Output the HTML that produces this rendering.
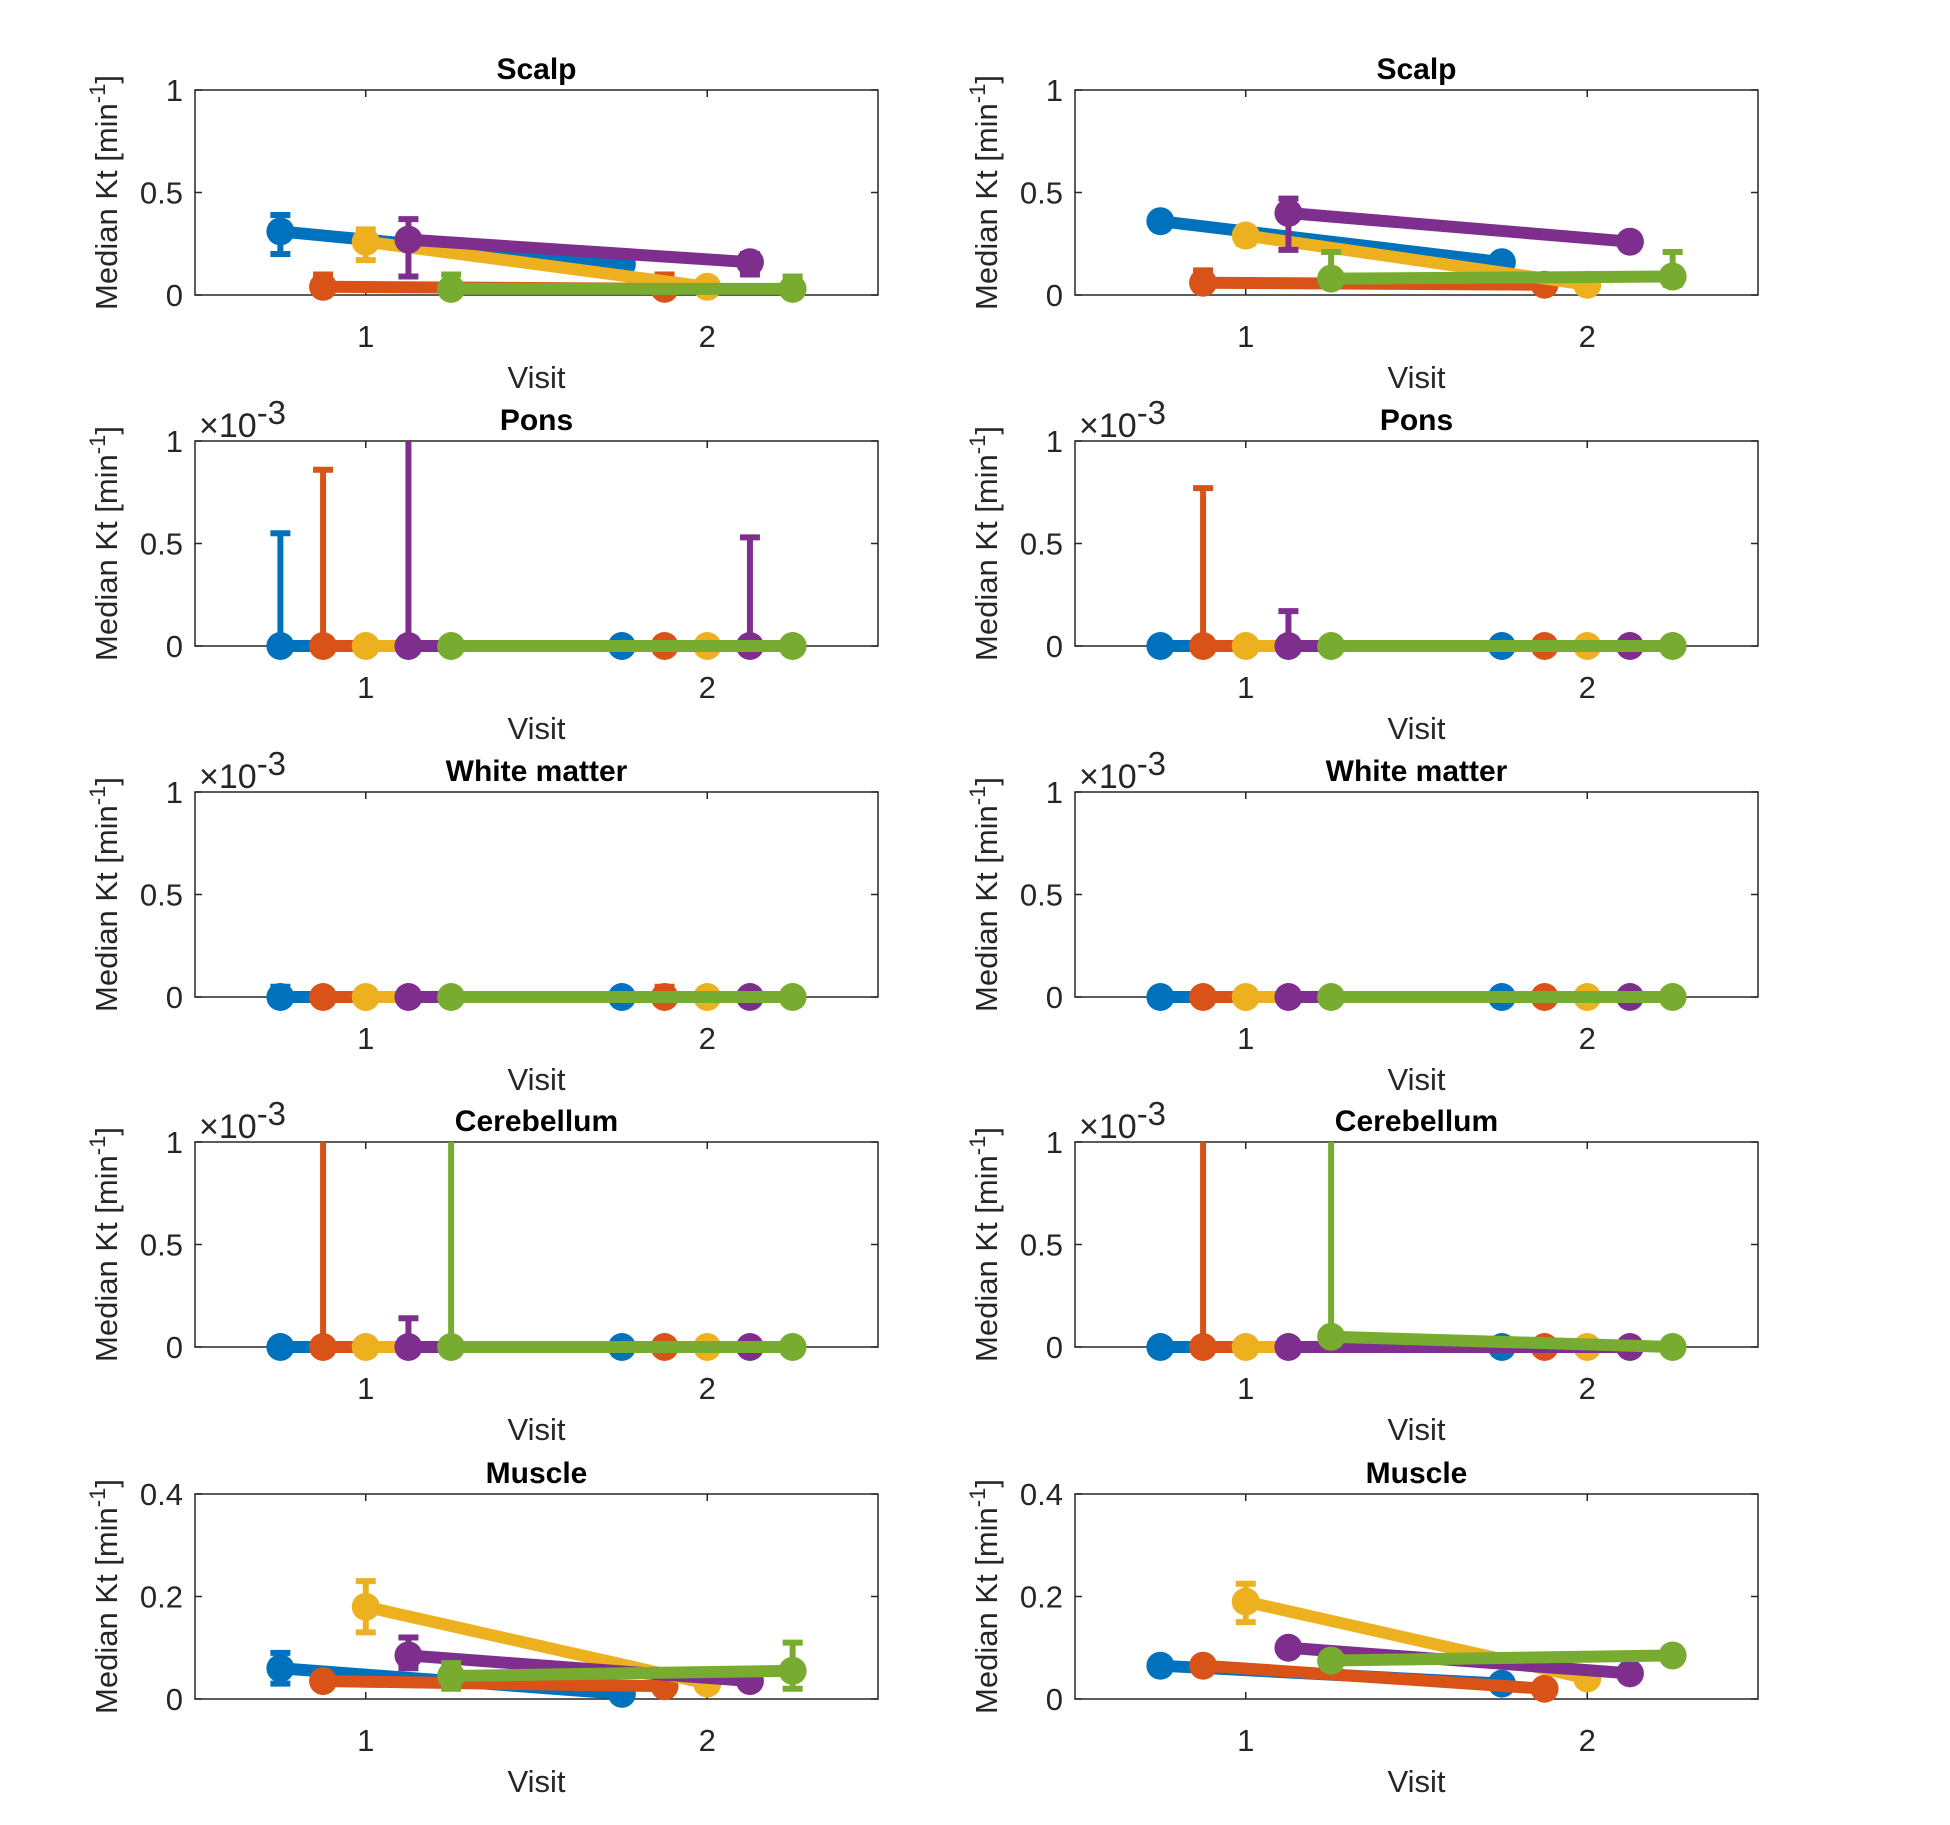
<!DOCTYPE html>
<html><head><meta charset="utf-8"><style>
html,body{margin:0;padding:0;background:#fff;}
svg{display:block;font-family:"Liberation Sans",Arial,sans-serif;}
</style></head><body>
<svg id="fig" width="1950" height="1825" viewBox="0 0 1950 1825" xmlns="http://www.w3.org/2000/svg"></svg>
<script>
const colors=['#0072BD','#D95319','#EDB120','#7E2F8E','#77AC30'];
const seriesNames=['s1','s2','s3','s4','s5'];
const offsets=[-0.25,-0.125,0,0.125,0.25];
const visits=[1,2];
const titles=['Scalp','Pons','White matter','Cerebellum','Muscle'];
const yMax=[1,1,1,1,0.4];
const yTicks=[[0,0.5,1],[0,0.5,1],[0,0.5,1],[0,0.5,1],[0,0.2,0.4]];
const yTickLabels=[['0','0.5','1'],['0','0.5','1'],['0','0.5','1'],['0','0.5','1'],['0','0.2','0.4']];
const exponentRows=[false,true,true,true,false];
const valuesLeft=[
 [[0.31,0.15],[0.04,0.03],[0.26,0.04],[0.27,0.16],[0.03,0.03]],
 [[0,0],[0,0],[0,0],[0,0],[0,0]],
 [[0,0],[0,0],[0,0],[0,0],[0,0]],
 [[0,0],[0,0],[0,0],[0,0],[0,0]],
 [[0.06,0.01],[0.035,0.025],[0.18,0.03],[0.085,0.035],[0.045,0.055]]
];
const lowLeft=[
 [[0.2,0.15],[0.04,0.03],[0.17,0.04],[0.09,0.1],[0.03,0.03]],
 [[0,0],[0,0],[0,0],[0,0],[0,0]],
 [[0,0],[0,0],[0,0],[0,0],[0,0]],
 [[0,0],[0,0],[0,0],[0,0],[0,0]],
 [[0.03,0.01],[0.035,0.025],[0.13,0.03],[0.06,0.035],[0.02,0.02]]
];
const highLeft=[
 [[0.39,0.15],[0.1,0.1],[0.32,0.04],[0.37,0.2],[0.1,0.09]],
 [[0.55,0],[0.86,0],[0,0],[1.5,0.53],[0,0]],
 [[0.05,0],[0,0.05],[0,0],[0,0],[0,0]],
 [[0,0],[1.5,0],[0,0],[0.14,0],[1.5,0]],
 [[0.09,0.01],[0.035,0.025],[0.23,0.03],[0.12,0.035],[0.07,0.11]]
];
const valuesRight=[
 [[0.36,0.16],[0.06,0.05],[0.29,0.05],[0.4,0.26],[0.08,0.09]],
 [[0,0],[0,0],[0,0],[0,0],[0,0]],
 [[0,0],[0,0],[0,0],[0,0],[0,0]],
 [[0,0],[0,0],[0,0],[0,0],[0.05,0]],
 [[0.065,0.03],[0.065,0.02],[0.19,0.04],[0.1,0.05],[0.075,0.085]]
];
const lowRight=[
 [[0.33,0.16],[0.06,0.05],[0.25,0.05],[0.22,0.26],[0.08,0.05]],
 [[0,0],[0,0],[0,0],[0,0],[0,0]],
 [[0,0],[0,0],[0,0],[0,0],[0,0]],
 [[0,0],[0,0],[0,0],[0,0],[0.05,0]],
 [[0.065,0.03],[0.055,0.02],[0.15,0.04],[0.1,0.05],[0.06,0.075]]
];
const highRight=[
 [[0.39,0.16],[0.12,0.05],[0.31,0.05],[0.47,0.26],[0.21,0.21]],
 [[0,0],[0.77,0],[0,0],[0.17,0],[0,0]],
 [[0,0],[0,0],[0,0],[0,0],[0,0]],
 [[0,0],[1.5,0],[0,0],[0,0],[1.5,0]],
 [[0.065,0.03],[0.075,0.02],[0.225,0.04],[0.1,0.05],[0.09,0.095]]
];
const colsX=[[195,878],[1075,1758]];
const rowTop=[90,441,792,1142,1494];
const axH=205;
const NS='http://www.w3.org/2000/svg';
const svg=document.getElementById('fig');
function mk(tag,attrs,parent){const e=document.createElementNS(NS,tag);for(const k in attrs)e.setAttribute(k,attrs[k]);(parent||svg).appendChild(e);return e;}
const panels=[[valuesLeft,lowLeft,highLeft],[valuesRight,lowRight,highRight]];
for(let c=0;c<2;c++){
 for(let r=0;r<5;r++){
  const [x0,x1]=colsX[c];const y0=rowTop[r],y1=y0+axH;
  const g=mk('g',{});
  
  
  const xs=v=>x0+(v-0.5)/2*(x1-x0);
  const ys=v=>y1-Math.max(0,Math.min(v,yMax[r]))/yMax[r]*axH;
  const bg=mk('rect',{x:x0,y:y0,width:x1-x0,height:axH,fill:'#fff',stroke:'#262626','stroke-width':1.5},g);
  
  
  yTicks[r].forEach((t,i)=>{
   const yy=ys(t);
   mk('line',{x1:x0,x2:x0+7,y1:yy,y2:yy,stroke:'#262626','stroke-width':1.5},g);
   mk('line',{x1:x1,x2:x1-7,y1:yy,y2:yy,stroke:'#262626','stroke-width':1.5},g);
   const tl=mk('text',{x:x0-12,y:yy+11,'text-anchor':'end','font-size':31,fill:'#262626'},g);
   tl.textContent=yTickLabels[r][i];
   
   
  });
  visits.forEach(v=>{
   const xx=xs(v);
   mk('line',{x1:xx,x2:xx,y1:y1,y2:y1-7,stroke:'#262626','stroke-width':1.5},g);
   mk('line',{x1:xx,x2:xx,y1:y0,y2:y0+7,stroke:'#262626','stroke-width':1.5},g);
   const tl=mk('text',{x:xx,y:y1+52,'text-anchor':'middle','font-size':31,fill:'#262626'},g);
   tl.textContent=String(v);
   
   
  });
  const xl=mk('text',{x:(x0+x1)/2,y:y1+93,'text-anchor':'middle','font-size':31,fill:'#262626'},g);
  xl.textContent='Visit';
  
  
  const yl=mk('text',{transform:`translate(${x0-78},${(y0+y1)/2}) rotate(-90)`,'text-anchor':'middle','font-size':31,fill:'#262626'},g);
  yl.innerHTML='Median Kt [min<tspan dy="-12" font-size="22">-1</tspan><tspan dy="12">]</tspan>';
  
  
  const tt=mk('text',{x:(x0+x1)/2,y:y0-11,'text-anchor':'middle','font-size':30,'font-weight':'bold',fill:'#000'},g);
  tt.textContent=titles[r];
  
  
  if(exponentRows[r]){
   const ex=mk('text',{x:x0+4,y:y0-4,'font-size':34,fill:'#262626'},g);
   ex.innerHTML='×10<tspan dy="-13" font-size="33">-3</tspan>';
   
   
  }
  const [vals,lo,hi]=panels[c];
  for(let s=0;s<5;s++){
   const sg=mk('g',{},g);
   
   
   const pts=visits.map((v,i)=>[xs(v+offsets[s]),ys(vals[r][s][i])]);
   visits.forEach((v,i)=>{
    const xx=xs(v+offsets[s]);const a=ys(lo[r][s][i]),b=ys(hi[r][s][i]);
    if(Math.abs(a-b)<1)return;
    const eb=mk('line',{x1:xx,x2:xx,y1:a,y2:b,stroke:colors[s],'stroke-width':6},sg);
    
    
    if(hi[r][s][i]<=yMax[r]) mk('line',{x1:xx-10,x2:xx+10,y1:b,y2:b,stroke:colors[s],'stroke-width':6},sg);
    if(lo[r][s][i]>0&&lo[r][s][i]<vals[r][s][i]) mk('line',{x1:xx-10,x2:xx+10,y1:a,y2:a,stroke:colors[s],'stroke-width':6},sg);
   });
   const ln=mk('line',{x1:pts[0][0],y1:pts[0][1],x2:pts[1][0],y2:pts[1][1],stroke:colors[s],'stroke-width':12},sg);
   
   
   pts.forEach(p=>{
    const m=mk('circle',{cx:p[0],cy:p[1],r:14,fill:colors[s]},sg);
    
    
   });
  }
 }
}
</script>
</body></html>
